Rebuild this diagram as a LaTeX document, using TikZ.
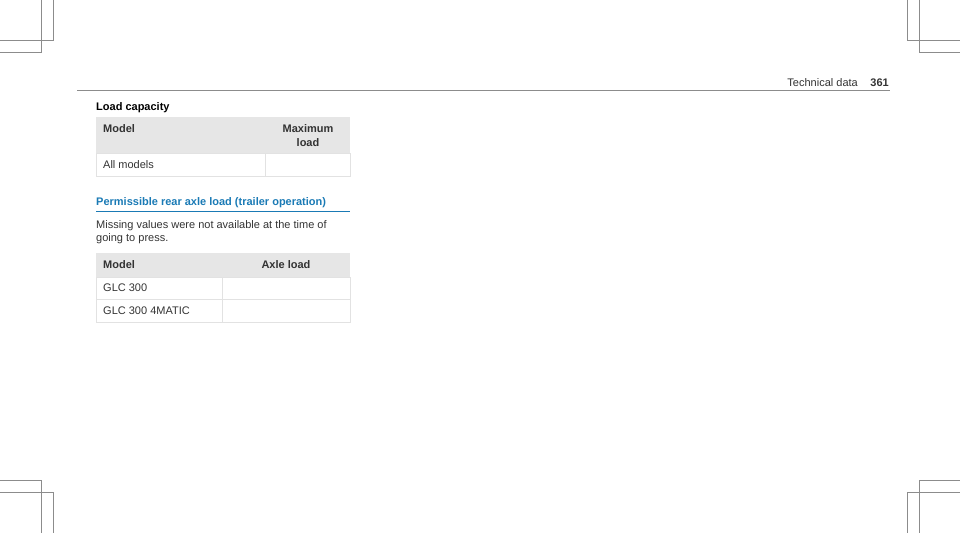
\documentclass[tikz,border=0pt]{standalone}
\usepackage{fontspec}
\setmainfont{Liberation Sans}
\definecolor{txt}{HTML}{333333}
\definecolor{headgray}{HTML}{E6E6E6}
\definecolor{cellline}{HTML}{E2E2E2}
\definecolor{headblue}{HTML}{1A7AB5}
\definecolor{cropgray}{HTML}{8C8C8C}
\tikzset{
  crop/.style={draw=cropgray,line width=0.8pt},
  cell/.style={anchor=west,text=txt,font=\fontsize{11}{13}\selectfont,inner sep=0pt},
  headcell/.style={cell,font=\fontsize{11}{13}\selectfont\bfseries},
}
\begin{document}
\begin{tikzpicture}[x=1pt,y=-1pt]
            \useasboundingbox (0,0) rectangle (960,533);
            % crop marks
            \draw [crop] (41,0)--(41,52)--(0,52);
            \draw [crop] (53,0)--(53,40)--(0,40);
            \draw [crop] (919,0)--(919,52)--(960,52);
            \draw [crop] (907,0)--(907,40)--(960,40);
            \draw [crop] (0,480)--(41,480)--(41,533);
            \draw [crop] (0,492)--(53,492)--(53,533);
            \draw [crop] (960,480)--(919,480)--(919,533);
            \draw [crop] (960,492)--(907,492)--(907,533);
            % running head
            \draw [draw=cropgray,line width=1pt] (77,90)--(890,90);
            \node [cell,anchor=base east] (pagenum) at(889,86) {\bfseries 361};
            \node [cell,anchor=base east] (chapter) at(858,86) {Technical data};
            % load capacity table
            \node [headcell,text=black] (loadtitle) at(96,108) {Load capacity};
            \fill [headgray] (96,117) rectangle (350,153);
            \draw [cellline] (96,153) rectangle (350,176);
            \draw [cellline] (265,153)--(265,176);
            \node [headcell] (modelA) at(103,129) {Model};
            \node [headcell,anchor=center,align=center,font=\fontsize{11}{14}\selectfont\bfseries] (maxload) at(308,136) {Maximum\\load};
            \node [cell] (allmodels) at(103,165) {All models};
            % axle load section
            \node [headcell,text=headblue] (axletitle) at(96,203) {Permissible rear axle load (trailer operation)};
            \draw [headblue,line width=0.8pt] (96,211)--(350,211);
            \node [cell] (note1) at(96,226) {Missing values were not available at the time of};
            \node [cell] (note2) at(96,239) {going to press.};
            \fill [headgray] (96,253) rectangle (350,277);
            \draw [cellline] (96,277) rectangle (350,322);
            \draw [cellline] (96,299)--(350,299);
            \draw [cellline] (222,277)--(222,322);
            \node [headcell] (modelB) at(103,265) {Model};
            \node [headcell,anchor=center] (axleload) at(286,265) {Axle load};
            \node [cell] (glc) at(103,288) {GLC 300};
            \node [cell] (glcmatic) at(103,311) {GLC 300 4MATIC};
        \end{tikzpicture}
\end{document}
